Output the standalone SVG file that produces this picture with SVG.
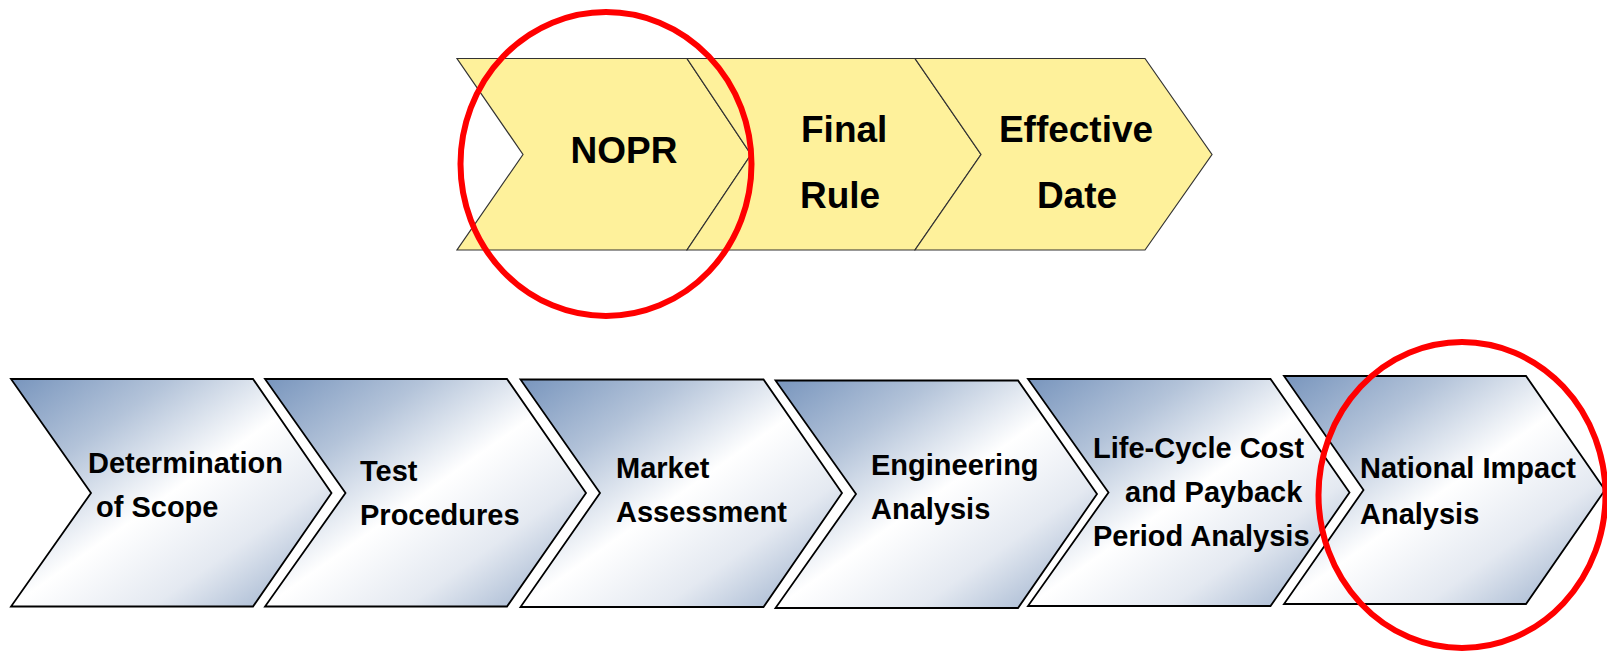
<svg xmlns="http://www.w3.org/2000/svg" width="1607" height="652" viewBox="0 0 1607 652">
<defs>
<linearGradient id="blueGrad" x1="0" y1="0" x2="1" y2="1">
<stop offset="0" stop-color="#7895BD"/>
<stop offset="0.25" stop-color="#B3C3D9"/>
<stop offset="0.5" stop-color="#FFFFFF"/>
<stop offset="0.72" stop-color="#E4E9F1"/>
<stop offset="1" stop-color="#8FA6C6"/>
</linearGradient>
<style>
.yel{fill:#FEF19B;stroke:#333333;stroke-width:1.2;stroke-linejoin:miter}
.blu{fill:url(#blueGrad);stroke:#000000;stroke-width:1.8;stroke-linejoin:miter}
.tt{font-family:"Liberation Sans",Arial,sans-serif;font-weight:bold;font-size:37px;fill:#000000}
.bt{font-family:"Liberation Sans",Arial,sans-serif;font-weight:bold;font-size:29px;fill:#000000}
.ring{fill:none;stroke:#FF0000;stroke-width:6}
</style>
</defs>
<rect width="1607" height="652" fill="#FFFFFF"/>
<g id="nopr">
<path class="yel" d="M457,58.5 L687,58.5 L751,154.5 L687,250 L457,250 L523,154.5 Z"/>
<text class="tt" x="624" y="163" text-anchor="middle">NOPR</text>
</g>
<g id="final-rule">
<path class="yel" d="M687,58.5 L915,58.5 L981,154.5 L915,250 L687,250 L751,154.5 Z"/>
<text class="tt" x="801" y="142">Final</text>
<text class="tt" x="800" y="208">Rule</text>
</g>
<g id="effective-date">
<path class="yel" d="M915,58.5 L1145,58.5 L1212,154.5 L1145,250 L915,250 L981,154.5 Z"/>
<text class="tt" x="1076" y="142" text-anchor="middle">Effective</text>
<text class="tt" x="1077" y="208" text-anchor="middle">Date</text>
</g>
<g id="scope">
<path class="blu" d="M11,379 L253,379 L331.5,493 L253,606.5 L11,606.5 L91,493 Z"/>
<text class="bt" x="88" y="473">Determination</text>
<text class="bt" x="96" y="517">of Scope</text>
</g>
<g id="test">
<path class="blu" d="M265,379 L507,379 L586,493 L507,606.5 L265,606.5 L345.5,493 Z"/>
<text class="bt" x="360" y="481">Test</text>
<text class="bt" x="360" y="525">Procedures</text>
</g>
<g id="market">
<path class="blu" d="M520.5,379.5 L763.5,379.5 L842,493 L763.5,607 L520.5,607 L600,493 Z"/>
<text class="bt" x="616" y="478">Market</text>
<text class="bt" x="616" y="522">Assessment</text>
</g>
<g id="engineering">
<path class="blu" d="M775.5,380.5 L1018,380.5 L1097,494 L1018,608 L775.5,608 L856,494 Z"/>
<text class="bt" x="871" y="475">Engineering</text>
<text class="bt" x="871" y="519">Analysis</text>
</g>
<g id="lcc">
<path class="blu" d="M1028,379 L1270.5,379 L1349.5,492.5 L1270.5,606 L1028,606 L1108.5,492.5 Z"/>
<text class="bt" x="1093" y="458">Life-Cycle Cost</text>
<text class="bt" x="1125" y="502">and Payback</text>
<text class="bt" x="1093" y="546">Period Analysis</text>
</g>
<g id="nia">
<path class="blu" d="M1284,376 L1526,376 L1605,490 L1526,604 L1284,604 L1363.5,490 Z"/>
<text class="bt" x="1360" y="478">National Impact</text>
<text class="bt" x="1360" y="524">Analysis</text>
</g>
<g id="highlights">
<ellipse class="ring" cx="606" cy="164" rx="145.5" ry="152"/>
<ellipse class="ring" cx="1462" cy="495" rx="143.5" ry="153"/>
</g>
</svg>
